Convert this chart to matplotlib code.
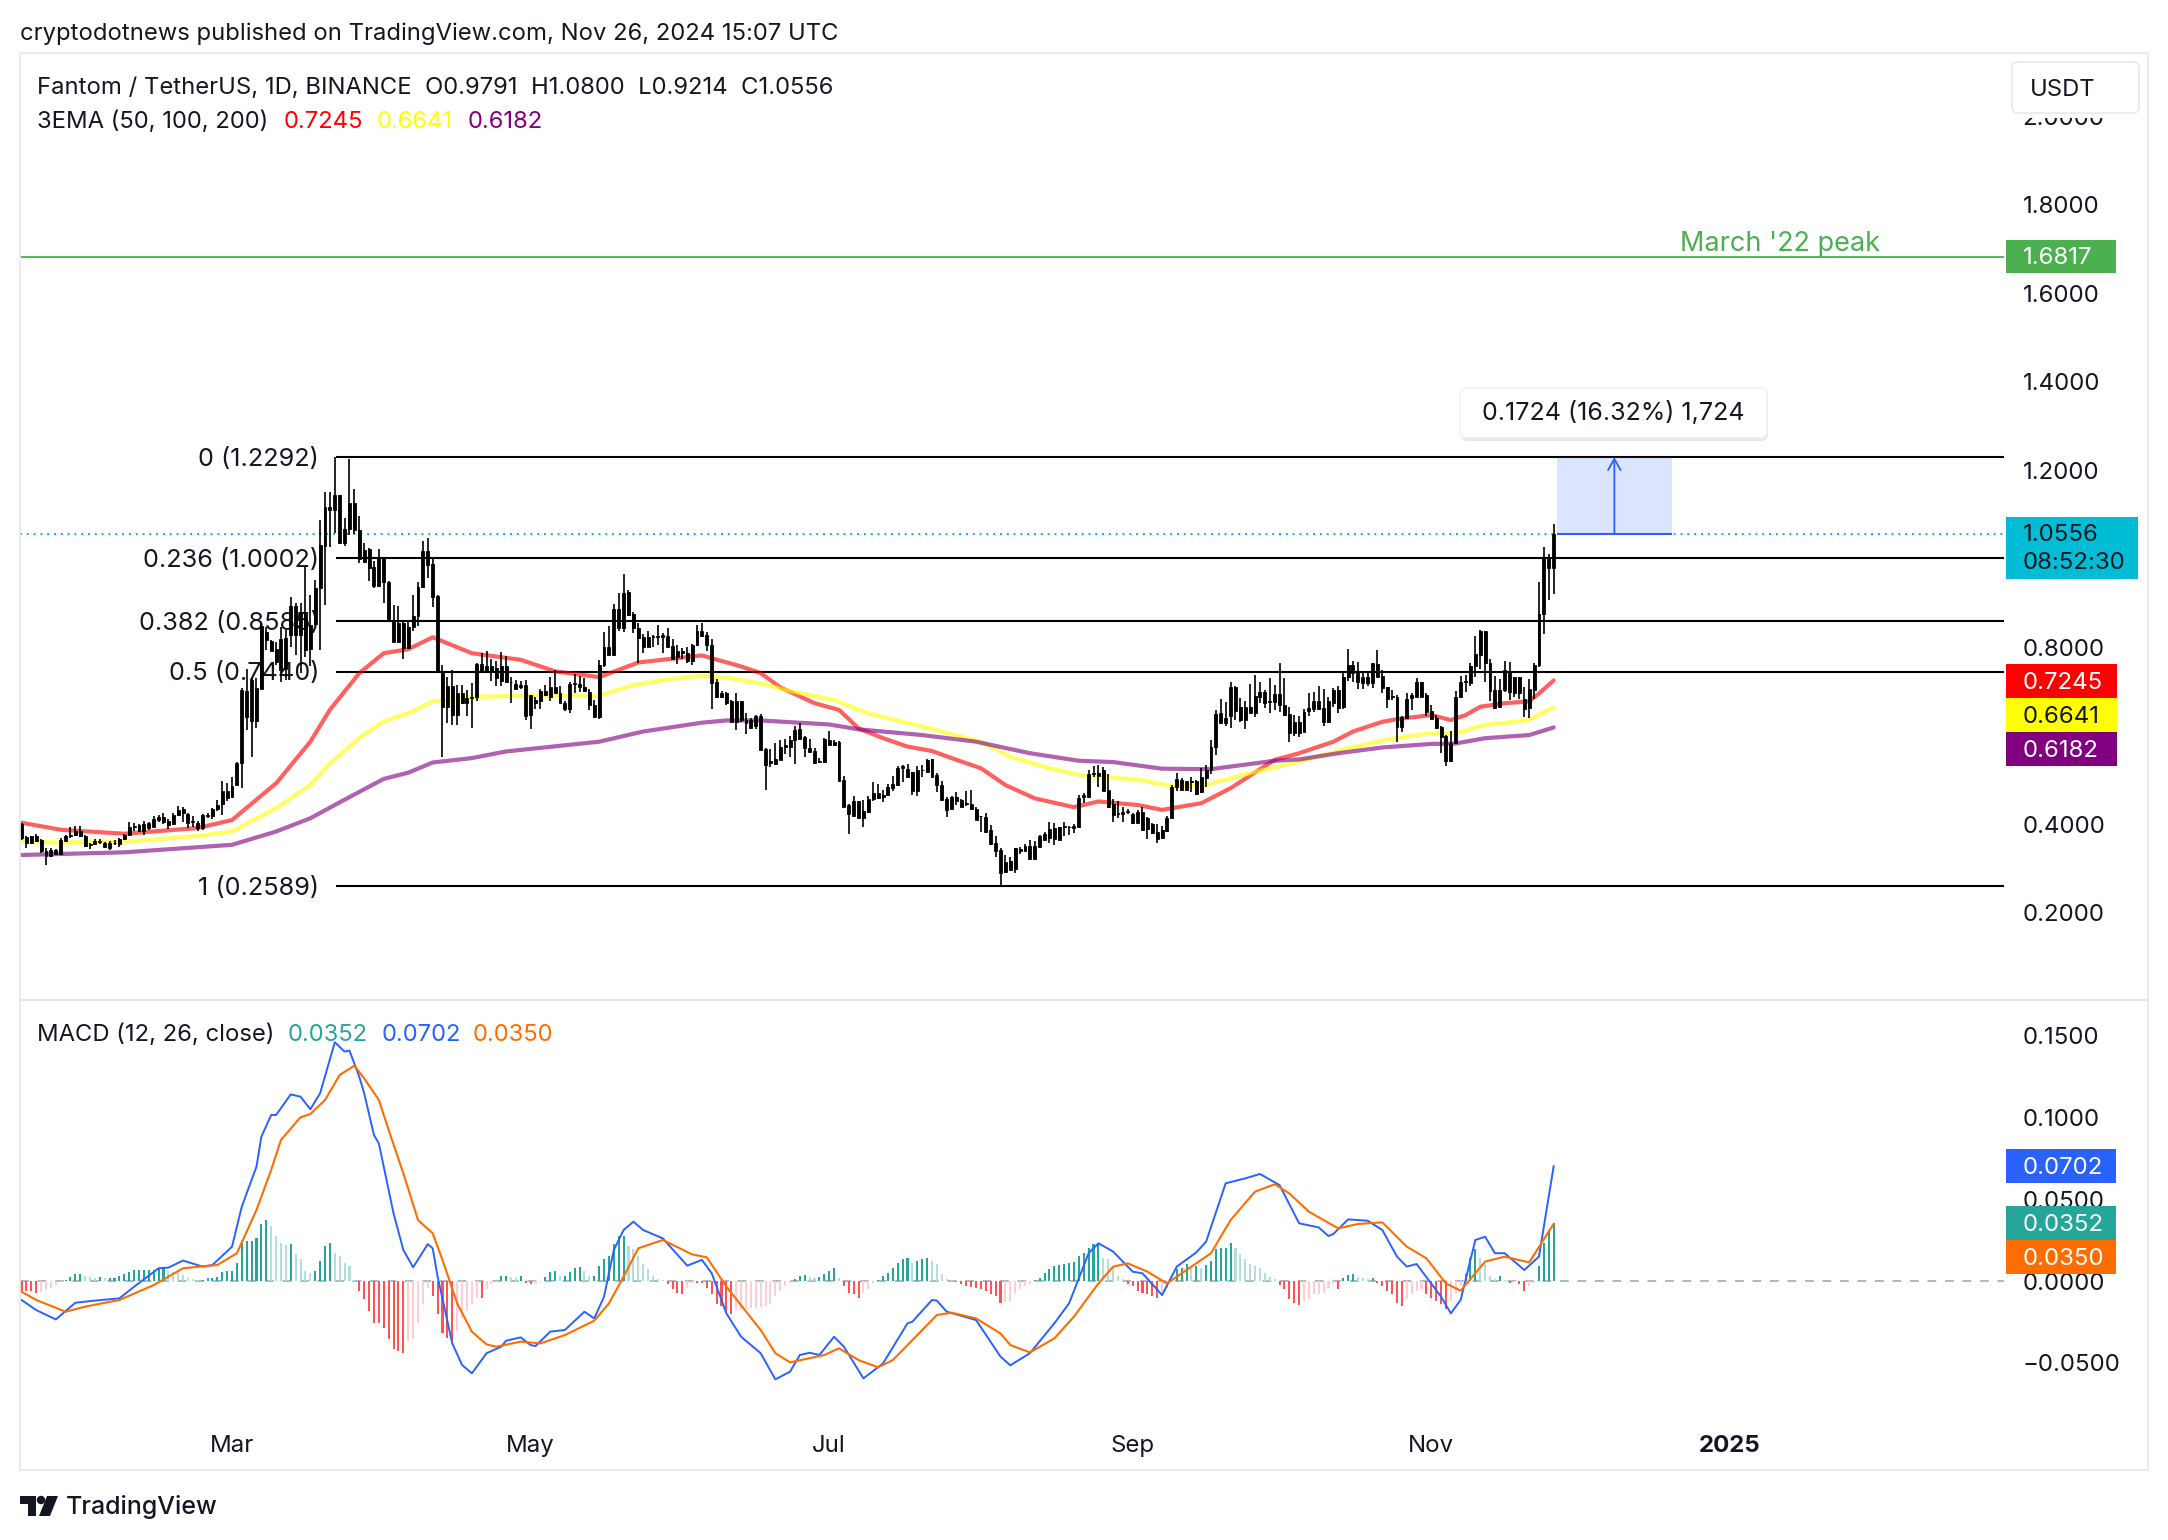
"""FTM/USDT daily chart with 3EMA, fib levels and MACD, TradingView look."""

import numpy as np
import matplotlib
matplotlib.use("Agg")
import matplotlib.pyplot as plt
from matplotlib.patches import Circle, FancyBboxPatch, Polygon, Rectangle

plt.rcParams["font.family"] = ["Inter", "DejaVu Sans"]

WIDTH, HEIGHT = 2168, 1540
TEXT = "#131722"

# x axis: days since 1 Mar 2024, one candle per day
candle_days = np.arange(-43, 271)

candle_low = [
    0.364, 0.345, 0.355, 0.360, 0.334, 0.308, 0.325, 0.330, 0.330, 0.360, 0.368, 0.372, 0.370, 0.347, 0.344, 0.353,
    0.355, 0.345, 0.341, 0.352, 0.349, 0.364, 0.375, 0.385, 0.383, 0.375, 0.387, 0.393, 0.405, 0.400, 0.388, 0.397,
    0.418, 0.405, 0.390, 0.394, 0.385, 0.387, 0.413, 0.411, 0.430, 0.420, 0.451, 0.458, 0.488, 0.481, 0.612, 0.551,
    0.616, 0.706, 0.793, 0.790, 0.760, 0.720, 0.726, 0.801, 0.782, 0.741, 0.778, 0.756, 0.850, 0.793, 0.895, 1.027,
    1.058, 1.036, 1.028, 1.053, 1.055, 0.989, 0.993, 0.950, 0.933, 0.935, 0.900, 0.860, 0.812, 0.810, 0.772, 0.795,
    0.837, 0.848, 0.933, 0.955, 0.891, 0.742, 0.551, 0.628, 0.624, 0.624, 0.671, 0.644, 0.616, 0.677, 0.742, 0.744,
    0.724, 0.711, 0.711, 0.718, 0.674, 0.705, 0.705, 0.635, 0.614, 0.661, 0.661, 0.689, 0.677, 0.695, 0.673, 0.656,
    0.650, 0.695, 0.699, 0.699, 0.658, 0.639, 0.637, 0.754, 0.782, 0.780, 0.837, 0.835, 0.869, 0.832, 0.763, 0.786,
    0.799, 0.799, 0.805, 0.787, 0.797, 0.772, 0.762, 0.774, 0.765, 0.759, 0.802, 0.822, 0.790, 0.661, 0.684, 0.684,
    0.669, 0.631, 0.613, 0.631, 0.604, 0.616, 0.614, 0.567, 0.476, 0.528, 0.533, 0.545, 0.558, 0.552, 0.536, 0.591,
    0.552, 0.563, 0.537, 0.539, 0.537, 0.579, 0.576, 0.498, 0.438, 0.378, 0.417, 0.412, 0.394, 0.426, 0.453, 0.456,
    0.450, 0.465, 0.475, 0.486, 0.496, 0.506, 0.466, 0.463, 0.507, 0.518, 0.506, 0.472, 0.454, 0.415, 0.432, 0.443,
    0.438, 0.441, 0.432, 0.409, 0.381, 0.382, 0.353, 0.326, 0.259, 0.290, 0.296, 0.290, 0.332, 0.338, 0.320, 0.320,
    0.347, 0.363, 0.358, 0.353, 0.364, 0.373, 0.376, 0.379, 0.390, 0.448, 0.458, 0.506, 0.484, 0.475, 0.436, 0.405,
    0.413, 0.405, 0.423, 0.400, 0.402, 0.387, 0.367, 0.378, 0.358, 0.367, 0.383, 0.412, 0.475, 0.475, 0.475, 0.473,
    0.466, 0.471, 0.483, 0.513, 0.556, 0.628, 0.622, 0.617, 0.634, 0.631, 0.615, 0.652, 0.641, 0.673, 0.662, 0.652,
    0.658, 0.654, 0.643, 0.586, 0.599, 0.597, 0.607, 0.643, 0.654, 0.658, 0.622, 0.628, 0.665, 0.652, 0.659, 0.724,
    0.721, 0.704, 0.706, 0.713, 0.707, 0.733, 0.697, 0.662, 0.680, 0.586, 0.609, 0.637, 0.658, 0.686, 0.686, 0.644,
    0.637, 0.614, 0.561, 0.530, 0.543, 0.581, 0.684, 0.699, 0.712, 0.732, 0.751, 0.720, 0.677, 0.659, 0.662, 0.699,
    0.680, 0.688, 0.682, 0.641, 0.639, 0.682, 0.754, 0.829, 0.906, 0.920,
]
body_low = [
    0.368, 0.358, 0.358, 0.362, 0.338, 0.328, 0.328, 0.332, 0.332, 0.362, 0.372, 0.375, 0.372, 0.350, 0.353, 0.354,
    0.359, 0.347, 0.346, 0.356, 0.355, 0.366, 0.376, 0.393, 0.385, 0.385, 0.390, 0.394, 0.409, 0.405, 0.398, 0.400,
    0.420, 0.424, 0.403, 0.405, 0.390, 0.390, 0.418, 0.417, 0.433, 0.445, 0.459, 0.460, 0.489, 0.539, 0.641, 0.632,
    0.632, 0.706, 0.816, 0.792, 0.767, 0.748, 0.750, 0.827, 0.827, 0.827, 0.793, 0.795, 0.852, 0.933, 1.028, 1.110,
    1.110, 1.036, 1.034, 1.066, 1.064, 1.000, 0.993, 0.978, 0.937, 0.937, 0.948, 0.861, 0.812, 0.812, 0.797, 0.797,
    0.846, 0.870, 0.935, 0.985, 0.914, 0.744, 0.664, 0.664, 0.647, 0.647, 0.673, 0.673, 0.684, 0.688, 0.744, 0.744,
    0.744, 0.729, 0.724, 0.720, 0.720, 0.706, 0.709, 0.643, 0.647, 0.674, 0.677, 0.692, 0.688, 0.697, 0.673, 0.659,
    0.659, 0.716, 0.709, 0.701, 0.670, 0.641, 0.641, 0.759, 0.782, 0.782, 0.842, 0.842, 0.872, 0.842, 0.820, 0.799,
    0.801, 0.822, 0.822, 0.822, 0.799, 0.772, 0.778, 0.786, 0.768, 0.769, 0.805, 0.825, 0.805, 0.719, 0.686, 0.688,
    0.673, 0.631, 0.631, 0.634, 0.628, 0.616, 0.622, 0.567, 0.534, 0.537, 0.536, 0.545, 0.575, 0.573, 0.590, 0.593,
    0.572, 0.563, 0.539, 0.541, 0.541, 0.579, 0.579, 0.498, 0.439, 0.423, 0.418, 0.414, 0.414, 0.427, 0.456, 0.458,
    0.460, 0.466, 0.481, 0.488, 0.526, 0.506, 0.475, 0.475, 0.521, 0.518, 0.507, 0.488, 0.454, 0.432, 0.433, 0.451,
    0.439, 0.445, 0.433, 0.409, 0.417, 0.383, 0.355, 0.338, 0.290, 0.292, 0.296, 0.298, 0.338, 0.338, 0.322, 0.322,
    0.349, 0.364, 0.368, 0.367, 0.365, 0.393, 0.393, 0.391, 0.393, 0.462, 0.460, 0.513, 0.509, 0.475, 0.439, 0.420,
    0.423, 0.423, 0.427, 0.402, 0.403, 0.387, 0.388, 0.379, 0.367, 0.368, 0.385, 0.413, 0.483, 0.477, 0.477, 0.496,
    0.468, 0.472, 0.503, 0.521, 0.573, 0.629, 0.629, 0.643, 0.655, 0.635, 0.635, 0.652, 0.652, 0.688, 0.673, 0.676,
    0.676, 0.668, 0.646, 0.605, 0.605, 0.605, 0.608, 0.655, 0.659, 0.661, 0.631, 0.631, 0.674, 0.662, 0.664, 0.732,
    0.742, 0.720, 0.718, 0.718, 0.718, 0.733, 0.708, 0.683, 0.686, 0.619, 0.619, 0.639, 0.684, 0.688, 0.688, 0.654,
    0.637, 0.616, 0.596, 0.543, 0.543, 0.582, 0.686, 0.721, 0.718, 0.756, 0.783, 0.763, 0.701, 0.662, 0.665, 0.703,
    0.699, 0.697, 0.695, 0.661, 0.662, 0.703, 0.759, 0.875, 0.978, 0.978,
]
body_high = [
    0.400, 0.370, 0.372, 0.372, 0.364, 0.338, 0.341, 0.341, 0.364, 0.373, 0.375, 0.385, 0.384, 0.373, 0.355, 0.362,
    0.361, 0.356, 0.358, 0.358, 0.366, 0.375, 0.394, 0.396, 0.397, 0.399, 0.402, 0.412, 0.415, 0.415, 0.407, 0.421,
    0.432, 0.435, 0.423, 0.407, 0.403, 0.420, 0.421, 0.433, 0.444, 0.475, 0.475, 0.486, 0.539, 0.703, 0.701, 0.725,
    0.707, 0.848, 0.835, 0.814, 0.795, 0.819, 0.820, 0.893, 0.893, 0.876, 0.875, 0.850, 0.933, 1.031, 1.116, 1.116,
    1.144, 1.144, 1.066, 1.125, 1.125, 1.064, 1.019, 1.021, 0.980, 1.003, 1.003, 0.948, 0.861, 0.855, 0.855, 0.846,
    0.870, 0.935, 1.016, 1.016, 0.988, 0.915, 0.742, 0.712, 0.712, 0.696, 0.696, 0.684, 0.688, 0.762, 0.762, 0.756,
    0.756, 0.752, 0.756, 0.756, 0.722, 0.717, 0.714, 0.714, 0.692, 0.680, 0.701, 0.701, 0.710, 0.710, 0.695, 0.673,
    0.716, 0.719, 0.716, 0.710, 0.699, 0.670, 0.759, 0.799, 0.799, 0.887, 0.887, 0.923, 0.925, 0.875, 0.842, 0.822,
    0.822, 0.825, 0.825, 0.827, 0.825, 0.802, 0.791, 0.790, 0.786, 0.805, 0.837, 0.836, 0.827, 0.805, 0.722, 0.695,
    0.697, 0.679, 0.677, 0.677, 0.635, 0.635, 0.644, 0.643, 0.570, 0.543, 0.546, 0.575, 0.579, 0.590, 0.612, 0.615,
    0.596, 0.571, 0.566, 0.543, 0.591, 0.590, 0.586, 0.586, 0.499, 0.443, 0.453, 0.451, 0.429, 0.457, 0.469, 0.469,
    0.466, 0.483, 0.490, 0.527, 0.530, 0.524, 0.518, 0.521, 0.522, 0.545, 0.546, 0.511, 0.488, 0.457, 0.462, 0.462,
    0.454, 0.448, 0.445, 0.435, 0.418, 0.415, 0.387, 0.358, 0.341, 0.315, 0.317, 0.345, 0.343, 0.350, 0.350, 0.350,
    0.373, 0.378, 0.388, 0.390, 0.393, 0.396, 0.394, 0.396, 0.458, 0.466, 0.513, 0.515, 0.516, 0.521, 0.477, 0.445,
    0.426, 0.427, 0.430, 0.423, 0.427, 0.427, 0.413, 0.399, 0.381, 0.387, 0.414, 0.484, 0.501, 0.500, 0.497, 0.498,
    0.497, 0.506, 0.521, 0.573, 0.649, 0.652, 0.639, 0.710, 0.710, 0.665, 0.665, 0.665, 0.689, 0.699, 0.699, 0.679,
    0.694, 0.694, 0.668, 0.649, 0.631, 0.631, 0.654, 0.662, 0.677, 0.677, 0.662, 0.677, 0.703, 0.703, 0.732, 0.759,
    0.759, 0.741, 0.732, 0.732, 0.763, 0.762, 0.735, 0.709, 0.689, 0.688, 0.641, 0.682, 0.692, 0.721, 0.721, 0.692,
    0.655, 0.639, 0.620, 0.598, 0.584, 0.688, 0.722, 0.724, 0.757, 0.784, 0.837, 0.836, 0.763, 0.703, 0.703, 0.747,
    0.745, 0.732, 0.732, 0.682, 0.706, 0.759, 0.875, 1.003, 1.003, 1.055,
]
candle_high = [
    0.403, 0.372, 0.373, 0.378, 0.366, 0.345, 0.345, 0.344, 0.368, 0.375, 0.394, 0.396, 0.396, 0.375, 0.356, 0.366,
    0.367, 0.360, 0.362, 0.364, 0.369, 0.378, 0.405, 0.402, 0.400, 0.406, 0.405, 0.418, 0.420, 0.424, 0.411, 0.426,
    0.441, 0.438, 0.426, 0.417, 0.406, 0.423, 0.426, 0.436, 0.454, 0.497, 0.492, 0.507, 0.541, 0.707, 0.750, 0.729,
    0.731, 0.854, 0.846, 0.816, 0.812, 0.846, 0.839, 0.914, 0.900, 0.900, 0.982, 0.918, 0.952, 1.086, 1.151, 1.151,
    1.229, 1.144, 1.091, 1.226, 1.156, 1.095, 1.034, 1.023, 0.995, 1.021, 1.004, 0.949, 0.895, 0.893, 0.857, 0.857,
    0.918, 0.948, 1.040, 1.046, 1.004, 0.918, 0.760, 0.732, 0.748, 0.714, 0.714, 0.702, 0.718, 0.763, 0.787, 0.791,
    0.772, 0.769, 0.788, 0.780, 0.733, 0.726, 0.724, 0.726, 0.692, 0.686, 0.704, 0.714, 0.732, 0.748, 0.712, 0.679,
    0.722, 0.739, 0.735, 0.729, 0.704, 0.680, 0.771, 0.834, 0.847, 0.897, 0.921, 0.965, 0.929, 0.880, 0.855, 0.829,
    0.837, 0.827, 0.850, 0.832, 0.842, 0.817, 0.805, 0.797, 0.799, 0.807, 0.850, 0.854, 0.835, 0.817, 0.727, 0.701,
    0.699, 0.680, 0.695, 0.677, 0.652, 0.639, 0.646, 0.649, 0.571, 0.569, 0.584, 0.590, 0.591, 0.599, 0.622, 0.628,
    0.599, 0.591, 0.571, 0.549, 0.594, 0.611, 0.590, 0.588, 0.509, 0.445, 0.463, 0.451, 0.454, 0.463, 0.496, 0.490,
    0.478, 0.490, 0.509, 0.530, 0.533, 0.536, 0.518, 0.531, 0.533, 0.546, 0.548, 0.515, 0.498, 0.460, 0.463, 0.473,
    0.456, 0.475, 0.477, 0.438, 0.418, 0.424, 0.398, 0.373, 0.345, 0.330, 0.325, 0.345, 0.347, 0.355, 0.364, 0.362,
    0.375, 0.381, 0.405, 0.402, 0.394, 0.405, 0.396, 0.400, 0.466, 0.469, 0.521, 0.531, 0.533, 0.528, 0.513, 0.457,
    0.451, 0.438, 0.435, 0.424, 0.432, 0.438, 0.415, 0.403, 0.400, 0.396, 0.417, 0.488, 0.515, 0.503, 0.498, 0.507,
    0.500, 0.526, 0.533, 0.590, 0.658, 0.682, 0.676, 0.721, 0.713, 0.684, 0.679, 0.716, 0.737, 0.721, 0.703, 0.731,
    0.714, 0.765, 0.731, 0.665, 0.647, 0.643, 0.659, 0.697, 0.698, 0.712, 0.704, 0.686, 0.707, 0.712, 0.742, 0.795,
    0.769, 0.766, 0.742, 0.742, 0.765, 0.793, 0.747, 0.710, 0.703, 0.692, 0.643, 0.695, 0.697, 0.730, 0.721, 0.695,
    0.669, 0.646, 0.622, 0.601, 0.611, 0.700, 0.735, 0.737, 0.763, 0.825, 0.839, 0.836, 0.772, 0.735, 0.727, 0.769,
    0.766, 0.733, 0.733, 0.710, 0.727, 0.763, 0.948, 1.025, 1.010, 1.078,
]

ema50_days = [-43, -35, -22, -7, 0, 9, 16, 20, 26, 31, 36, 41, 49, 59, 66, 75, 83, 96, 104, 108, 112, 119, 124, 128,
              133, 138, 143, 148, 153, 158, 164, 172, 177, 185, 190, 198, 204, 213, 218, 225, 229, 235, 238, 241,
              245, 249, 252, 255, 260, 265, 267, 270]
ema50_values = [0.403, 0.387, 0.378, 0.391, 0.409, 0.492, 0.586, 0.658, 0.741, 0.786, 0.795, 0.822, 0.786, 0.771,
                0.745, 0.732, 0.765, 0.781, 0.756, 0.741, 0.709, 0.673, 0.658, 0.616, 0.594, 0.575, 0.565, 0.545,
                0.526, 0.488, 0.458, 0.438, 0.451, 0.443, 0.432, 0.447, 0.481, 0.545, 0.560, 0.586, 0.609, 0.631,
                0.637, 0.641, 0.646, 0.635, 0.646, 0.665, 0.673, 0.677, 0.695, 0.7245]
ema100_days = [-43, -35, -22, -7, 0, 9, 16, 20, 26, 31, 36, 41, 49, 59, 75, 82, 89, 96, 101, 108, 113, 123, 130, 141,
               153, 159, 167, 173, 185, 192, 199, 208, 218, 228, 236, 244, 250, 256, 265, 270]
ema100_values = [0.360, 0.358, 0.360, 0.373, 0.383, 0.436, 0.488, 0.537, 0.594, 0.632, 0.650, 0.677, 0.687, 0.690,
                 0.690, 0.714, 0.727, 0.735, 0.731, 0.718, 0.703, 0.680, 0.650, 0.620, 0.586, 0.552, 0.526, 0.511,
                 0.500, 0.486, 0.488, 0.515, 0.541, 0.571, 0.591, 0.604, 0.605, 0.624, 0.635, 0.6641]
ema200_days = [-43, -22, 0, 9, 16, 23, 31, 36, 41, 49, 56, 75, 84, 96, 101, 108, 122, 128, 141, 152, 163, 173, 180,
               190, 200, 213, 218, 226, 235, 245, 250, 256, 265, 270]
ema200_values = [0.330, 0.336, 0.353, 0.383, 0.413, 0.455, 0.502, 0.516, 0.539, 0.549, 0.564, 0.586, 0.609, 0.629,
                 0.634, 0.634, 0.625, 0.614, 0.601, 0.586, 0.560, 0.543, 0.540, 0.525, 0.524, 0.543, 0.546, 0.560,
                 0.573, 0.581, 0.582, 0.594, 0.601, 0.6182]

macd_days = [-43, -40, -36, -32, -28, -23, -20, -15, -13, -10, -6, -4, 0, 2, 5, 6, 8, 9, 12, 14, 16, 18, 21, 23, 24,
             26, 27, 29, 30, 33, 35, 37, 40, 41, 42, 45, 47, 49, 52, 55, 56, 59, 61, 62, 65, 68, 72, 74, 76, 78, 80,
             82, 84, 88, 93, 96, 98, 101, 104, 108, 111, 114, 116, 118, 120, 123, 125, 129, 133, 138, 139, 143, 144,
             146, 152, 157, 159, 163, 168, 171, 175, 177, 180, 184, 186, 190, 193, 197, 199, 203, 207, 210, 214,
             218, 222, 224, 225, 228, 232, 235, 238, 240, 242, 247, 249, 251, 254, 256, 258, 260, 264, 267, 270]
macd_values = [-0.0116, -0.0178, -0.0235, -0.0133, -0.0120, -0.0106, -0.0035, 0.0078, 0.0082, 0.0125, 0.0088, 0.0098,
               0.0210, 0.0455, 0.0700, 0.0883, 0.1016, 0.1016, 0.1142, 0.1128, 0.1051, 0.1149, 0.1461, 0.1404, 0.1410,
               0.1250, 0.1149, 0.0893, 0.0842, 0.0414, 0.0190, 0.0084, 0.0226, 0.0200, 0.0027, -0.0382, -0.0514,
               -0.0565, -0.0442, -0.0402, -0.0365, -0.0345, -0.0392, -0.0398, -0.0310, -0.0300, -0.0188, -0.0229,
               -0.0096, 0.0190, 0.0312, 0.0363, 0.0312, 0.0261, 0.0094, 0.0129, 0.0047, -0.0198, -0.0341, -0.0442,
               -0.0602, -0.0555, -0.0453, -0.0439, -0.0453, -0.0341, -0.0402, -0.0596, -0.0504, -0.0259, -0.0249,
               -0.0116, -0.0120, -0.0188, -0.0239, -0.0463, -0.0516, -0.0442, -0.0259, -0.0137, 0.0170, 0.0231, 0.0180,
               0.0057, 0.0047, -0.0086, 0.0088, 0.0175, 0.0241, 0.0598, 0.0628, 0.0655, 0.0587, 0.0353, 0.0328, 0.0275,
               0.0288, 0.0377, 0.0369, 0.0312, 0.0149, 0.0088, 0.0104, -0.0096, -0.0198, -0.0116, 0.0251, 0.0271,
               0.0170, 0.0170, 0.0067, 0.0149, 0.0702]

signal_days = [-43, -40, -34, -30, -23, -16, -10, -3, 1, 5, 8, 10, 14, 16, 19, 22, 25, 27, 30, 32, 35, 38, 41, 43, 46,
               49, 52, 54, 59, 63, 68, 74, 77, 80, 83, 88, 94, 97, 101, 108, 111, 114, 121, 124, 128, 132, 135, 140,
               144, 147, 152, 157, 159, 163, 168, 172, 177, 180, 183, 187, 191, 196, 200, 204, 209, 213, 216, 220,
               226, 230, 235, 240, 244, 248, 251, 256, 260, 265, 270]
signal_values = [-0.0066, -0.0116, -0.0188, -0.0157, -0.0116, -0.0025, 0.0078, 0.0098, 0.0170, 0.0435, 0.0680, 0.0863,
                 0.1002, 0.1022, 0.1108, 0.1261, 0.1318, 0.1240, 0.1108, 0.0924, 0.0659, 0.0373, 0.0292, 0.0129,
                 -0.0137, -0.0310, -0.0388, -0.0402, -0.0371, -0.0382, -0.0331, -0.0243, -0.0137, 0.0027, 0.0200,
                 0.0251, 0.0163, 0.0145, -0.0035, -0.0300, -0.0442, -0.0498, -0.0453, -0.0412, -0.0484, -0.0528,
                 -0.0484, -0.0331, -0.0208, -0.0194, -0.0229, -0.0321, -0.0392, -0.0437, -0.0351, -0.0218, -0.0015,
                 0.0088, 0.0108, 0.0057, -0.0015, 0.0088, 0.0170, 0.0373, 0.0547, 0.0592, 0.0536, 0.0424, 0.0322,
                 0.0349, 0.0359, 0.0210, 0.0139, -0.0015, -0.0059, 0.0119, 0.0149, 0.0114, 0.0350]

histogram = [
    -0.0061, -0.0061, -0.0061, -0.0071, -0.0069, -0.0057, -0.0045, -0.0024, -0.0006,
    0.0006, 0.0024, 0.0041, 0.0045, 0.0029, 0.0024, 0.0020, 0.0024, 0.0016, 0.0016, 0.0020, 0.0029, 0.0041, 0.0057,
    0.0065, 0.0065, 0.0065, 0.0065, 0.0069, 0.0078, 0.0078, 0.0061, 0.0053, 0.0049, 0.0037, 0.0020, 0.0010, 0.0008,
    0.0008, 0.0016, 0.0020, 0.0024, 0.0057, 0.0061,
    0.0061, 0.0112, 0.0245, 0.0245, 0.0245, 0.0265, 0.0347, 0.0371, 0.0337, 0.0275, 0.0235, 0.0220, 0.0224, 0.0163,
    0.0133, 0.0061, 0.0051, 0.0061, 0.0122, 0.0214, 0.0235, 0.0173, 0.0153, 0.0112, 0.0092, 0.0006,
    -0.0061, -0.0112, -0.0184, -0.0255, -0.0255, -0.0286, -0.0357, -0.0418, -0.0428, -0.0439, -0.0367, -0.0357,
    -0.0255, -0.0143, -0.0041, -0.0092, -0.0204, -0.0316, -0.0347, -0.0367, -0.0306, -0.0224, -0.0184, -0.0143,
    -0.0102, -0.0102, -0.0051, -0.0020, -0.0006,
    0.0031, 0.0031, 0.0024, 0.0020, 0.0031,
    -0.0010, -0.0020, -0.0016, -0.0006,
    0.0024, 0.0057, 0.0061, 0.0031, 0.0031, 0.0057, 0.0078, 0.0086, 0.0061, 0.0031, 0.0031, 0.0092, 0.0133, 0.0153,
    0.0224, 0.0275, 0.0275, 0.0214, 0.0194, 0.0153, 0.0102, 0.0071, 0.0031, 0.0010, 0.0006,
    -0.0020, -0.0051, -0.0071, -0.0082, -0.0041, -0.0010, -0.0010, -0.0010, -0.0041, -0.0082, -0.0143, -0.0153,
    -0.0194, -0.0204, -0.0180, -0.0175, -0.0173, -0.0167, -0.0163, -0.0159, -0.0153, -0.0143, -0.0092, -0.0061,
    -0.0031, -0.0010,
    0.0010, 0.0031, 0.0037, 0.0024, 0.0016, 0.0024, 0.0041, 0.0061, 0.0078, 0.0020,
    -0.0031, -0.0071, -0.0082, -0.0102, -0.0071, -0.0051, -0.0010,
    0.0006, 0.0031, 0.0051, 0.0082, 0.0112, 0.0133, 0.0139, 0.0112, 0.0122, 0.0133, 0.0139, 0.0122, 0.0102, 0.0041,
    0.0010, 0.0006,
    -0.0006, -0.0020, -0.0031, -0.0037, -0.0041, -0.0051, -0.0061, -0.0082, -0.0092,
    -0.0133, -0.0126, -0.0122, -0.0071, -0.0051, -0.0031, -0.0020,
    0.0004,
    0.0020, 0.0051, 0.0071, 0.0092, 0.0098, 0.0106, 0.0112, 0.0118, 0.0153, 0.0173, 0.0204, 0.0224, 0.0235, 0.0143,
    0.0133, 0.0092, 0.0031, 0.0010,
    -0.0016, -0.0031, -0.0061, -0.0071, -0.0082, -0.0092, -0.0102, -0.0092, -0.0041,
    0.0006, 0.0071, 0.0082, 0.0102, 0.0092, 0.0092, 0.0082, 0.0098, 0.0122, 0.0194, 0.0204, 0.0204, 0.0235, 0.0204,
    0.0163, 0.0133, 0.0102, 0.0092, 0.0082, 0.0051, 0.0024, 0.0010,
    -0.0024, -0.0051, -0.0112, -0.0133, -0.0147, -0.0122, -0.0112, -0.0082, -0.0078, -0.0071, -0.0041, -0.0020,
    -0.0051,
    0.0016, 0.0037, 0.0045, 0.0024, 0.0016, 0.0010, 0.0016,
    -0.0010,
    -0.0031, -0.0061, -0.0082, -0.0133, -0.0153, -0.0112, -0.0082, -0.0061, -0.0051, -0.0082, -0.0102, -0.0122,
    -0.0143, -0.0173, -0.0122, -0.0082, -0.0031,
    0.0041, 0.0143, 0.0194, 0.0143, 0.0102, 0.0031, 0.0010, 0.0031, 0.0006,
    -0.0010, -0.0006, -0.0020, -0.0061, -0.0031, -0.0010,
    0.0092, 0.0231, 0.0302, 0.0352,
]

fib_ratios = ["0", "0.236", "0.382", "0.5", "1"]
fib_levels = [1.2292, 1.0002, 0.8585, 0.7440, 0.2589]
peak_level = 1.6817
last_close = 1.0556
measure_low, measure_high = 1.0556, 1.2292

price_ticks = [0.2, 0.4, 0.8, 1.2, 1.4, 1.6, 1.8, 2.0]
macd_ticks = [-0.05, 0.0, 0.05, 0.10, 0.15]
month_days = [0, 61, 122, 184, 245, 306]
month_labels = ["Mar", "May", "Jul", "Sep", "Nov", "2025"]


def pane(left, top, right, bottom):
    """Axes from pixel box of the reference."""
    return fig.add_axes([left / WIDTH, 1 - bottom / HEIGHT, (right - left) / WIDTH, (bottom - top) / HEIGHT])


def hist_color(value, previous):
    if value >= 0:
        return "#26a69a" if value >= previous else "#b2dfdb"
    return "#ff5252" if value <= previous else "#ffcdd2"


def label(x, y, text, size=17.15, color=TEXT, **kwargs):
    # Inter sits a little high with va=center, so nudge it down
    over.text(x, y + 2, text, fontsize=size, color=color, va="center", **kwargs)


fig = plt.figure(figsize=(WIDTH / 100, HEIGHT / 100), dpi=100, facecolor="white")

ax_main = pane(20, 53, 2004, 1000)
ax_macd = pane(20, 1000, 2004, 1420)
for ax in (ax_main, ax_macd):
    ax.set_xlim(-43.31, 362.0)
    for spine in ax.spines.values():
        spine.set_visible(False)
    ax.yaxis.tick_right()
    ax.tick_params(axis="both", length=0, labelsize=17.3, labelcolor=TEXT)
    ax.tick_params(axis="y", pad=13.5)

ax_main.set_ylim(0.0023, 2.1424)
ax_main.set_yticks(price_ticks)
ax_main.set_yticklabels([f"{v:.4f}" for v in price_ticks])
ax_main.set_xticks([])

# Main pane
ax_main.hlines(peak_level, -43.31, 362, color="#4caf50", lw=1.3, zorder=2)
ax_main.hlines(last_close, -43.31, 362, color="#00bcd4", lw=1.4, linestyles=(0, (1, 2.5)), zorder=2)
ax_main.hlines(fib_levels, 21.2, 362, color="black", lw=1.5, zorder=2)
for ratio, level in zip(fib_ratios, fib_levels):
    ax_main.annotate(f"{ratio} ({level:.4f})", (17.8, level), xytext=(0, -1.5), textcoords="offset points",
                     ha="right", va="center", fontsize=18.2, color=TEXT, zorder=1)

ema_style = dict(lw=3, alpha=0.62, zorder=3, solid_capstyle="round", solid_joinstyle="round")
ax_main.plot(ema50_days, ema50_values, color="#ff0000", **ema_style)
ax_main.plot(ema100_days, ema100_values, color="#ffff00", **ema_style)
ax_main.plot(ema200_days, ema200_values, color="#800080", **ema_style)

ax_main.vlines(candle_days, candle_low, candle_high, color="black", lw=1.2, zorder=4)
body_bottom = np.array(body_low)
ax_main.bar(candle_days, np.array(body_high) - body_bottom, bottom=body_bottom, width=0.6,
            color="black", edgecolor="black", lw=0.6, zorder=4)

ax_main.add_patch(Rectangle((270.7, measure_low), 23.5, measure_high - measure_low, color="#2962ff", alpha=0.16,
                            lw=0, zorder=2))
ax_main.hlines(measure_low, 270.7, 294.2, color="#2962ff", lw=1.5, zorder=3)
ax_main.annotate("", xy=(282.4, measure_high), xytext=(282.4, measure_low), zorder=3,
                 arrowprops=dict(arrowstyle="->,head_length=0.8,head_width=0.45", color="#2962ff", lw=1.3,
                                 shrinkA=0, shrinkB=0))

# MACD pane
ax_macd.set_ylim((1281 - 1420) / 1634, (1281 - 1000) / 1634)
ax_macd.set_yticks(macd_ticks)
ax_macd.set_yticklabels([f"{v:.4f}".replace("-", "\u2212") for v in macd_ticks])
ax_macd.hlines(0, -43.31, 362, color="#b2b5be", lw=1.4, linestyles=(0, (4.5, 4.5)), zorder=2)
hist_colors = [hist_color(v, p) for v, p in zip(histogram, [histogram[0]] + histogram[:-1])]
ax_macd.bar(candle_days, histogram, width=0.42, color=hist_colors, zorder=3)
line_style = dict(zorder=4, solid_joinstyle="round")
ax_macd.plot(macd_days, macd_values, color="#2962ff", lw=1.4, **line_style)
ax_macd.plot(signal_days, signal_values, color="#ff6d00", lw=1.5, **line_style)

ax_macd.set_xticks(month_days)
ax_macd.set_xticklabels(month_labels)
ax_macd.tick_params(axis="x", pad=11)
ax_macd.get_xticklabels()[-1].set_fontweight("bold")

# Everything around the panes is placed in reference pixels on one overlay
over = fig.add_axes([0, 0, 1, 1], zorder=10)
over.set_xlim(0, WIDTH)
over.set_ylim(HEIGHT, 0)
over.axis("off")
over.patch.set_alpha(0)

over.add_patch(Rectangle((20, 53), 2128, 1417, fill=False, edgecolor="#e6e9f0", lw=1.3))
over.plot([20, 2148], [1000, 1000], color="#dfe2ea", lw=1.2)

label(20, 32, "cryptodotnews published on TradingView.com, Nov 26, 2024 15:07 UTC")
label(37, 86, "Fantom / TetherUS, 1D, BINANCE  O0.9791  H1.0800  L0.9214  C1.0556")
label(37, 120, "3EMA (50, 100, 200)")
for x, value, color in [(284, "0.7245", "#ff0000"), (377, "0.6641", "#ffff00"), (468, "0.6182", "#800080")]:
    label(x, 120, value, color=color)
label(37, 1033, "MACD (12, 26, close)")
for x, value, color in [(288, "0.0352", "#26a69a"), (382, "0.0702", "#2962ff"), (473, "0.0350", "#ff6d00")]:
    label(x, 1033, value, color=color)

over.add_patch(Rectangle((2008, 106), 135, 12, color="white", lw=0))
over.add_patch(FancyBboxPatch((2016, 66), 119, 43, boxstyle="round,pad=4,rounding_size=6", facecolor="white",
                              edgecolor="#e6e9f0", lw=1.2))
label(2030, 88, "USDT")

label(1680, 242, "March '22 peak", size=19.5, color="#4caf50")

# Price scale tags: (top, bottom, right edge, text, fill, text colour)
scale_tags = [
    (240, 273, 2116, "1.6817", "#4caf50", "white"),
    (664, 698, 2117, "0.7245", "#ff0000", "white"),
    (698, 732, 2117, "0.6641", "#ffff00", TEXT),
    (732, 766, 2117, "0.6182", "#800080", "white"),
    (1149, 1183, 2116, "0.0702", "#2962ff", "white"),
    (1206, 1240, 2116, "0.0352", "#26a69a", "white"),
    (1240, 1274, 2116, "0.0350", "#ff6d00", "white"),
]
for top, bottom, right, value, fill, ink in scale_tags:
    over.add_patch(Rectangle((2006, top), right - 2006, bottom - top, color=fill, lw=0))
    label(2023, (top + bottom) / 2, value, size=17.3, color=ink)
over.add_patch(Rectangle((2006, 517), 132, 62, color="#00bcd4", lw=0))
label(2023, 533, "1.0556", size=17.3)
label(2023, 561, "08:52:30", size=17.3)

# Measure tooltip
over.add_patch(FancyBboxPatch((1461, 391), 307, 50, boxstyle="round,pad=0,rounding_size=7", facecolor="#dfe1e8",
                              edgecolor="none", alpha=0.8))
over.add_patch(FancyBboxPatch((1460, 388), 307, 50, boxstyle="round,pad=0,rounding_size=7", facecolor="white",
                              edgecolor="#eceef3", lw=0.8))
label(1613, 411, "0.1724 (16.32%) 1,724", size=18, ha="center")

# TradingView mark and name
over.add_patch(Polygon([(20, 1496), (36, 1496), (36, 1516), (28, 1516), (28, 1504), (20, 1504)], color=TEXT, lw=0))
over.add_patch(Circle((41, 1500), 4.2, color=TEXT, lw=0))
over.add_patch(Polygon([(47, 1496), (58, 1496), (50, 1516), (39, 1516)], color=TEXT, lw=0))
label(66, 1505, "TradingView", size=18, fontweight="medium")

fig.savefig("out.png", dpi=100)
